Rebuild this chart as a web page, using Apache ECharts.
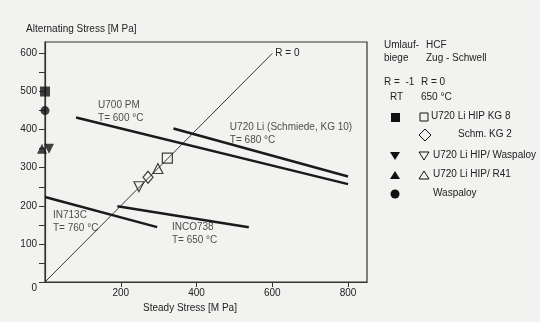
<!DOCTYPE html>
<html>
<head>
<meta charset="utf-8">
<script src="https://cdn.jsdelivr.net/npm/echarts@6/dist/echarts.min.js"></script>
<style>
  html, body { margin: 0; padding: 0; background: #f2f2f0; }
  #main { width: 540px; height: 322px; }
</style>
</head>
<body>
<div id="main"></div>
<script>
// 数据
var xTicks = [200, 400, 600, 800];
var yTicks = [0, 100, 200, 300, 400, 500, 600];
var yMinor = [0, 50, 100, 150, 200, 250, 300, 350, 400, 450, 500, 550, 600];

var rLine = [[0, 0], [600, 600]];
var u700 = [[82, 432], [800, 257]];
var u720 = [[339, 403], [800, 277]];
var in713 = [[0, 223], [296, 144]];
var inco738 = [[191, 199], [538, 144]];

// R = -1, RT (gefuellt)
var rtSquare = [[0, 500]];
var rtCircle = [[0, 450]];
var rtDown = [[0, 350]];
var rtUp = [[0, 350]];
// R = 0, 650 °C (offen)
var hipSquare = [[323, 325]];
var kg2Diamond = [[272, 275]];
var hipDown = [[248, 250]];
var hipUp = [[298, 298]];

var noteText = ['U700 PM\nT= 600 °C', 'U720 Li (Schmiede, KG 10)\nT= 680 °C', 'IN713C\nT= 760 °C', 'INCO738\nT= 650 °C'];
var noteAt = [[140, 448], [488, 390], [21, 159], [335, 127]];

var font = 'Liberation Sans Narrow, Arial Narrow, Liberation Sans, Arial, sans-serif';
var fs = 10;
var ink = '#222';
var bg = '#f2f2f0';

var myChart = echarts.init(document.getElementById('main'));

function matLine(d) {
  return { type: 'line', data: d, symbol: 'none', silent: true,
    lineStyle: { color: '#1a1a1a', width: 2.5 } };
}
function pts(d, sym, size, filled, extra) {
  var s = { type: 'scatter', data: d, symbol: sym, symbolSize: size, clip: false,
    itemStyle: filled ? { color: '#111' } : { color: bg, borderColor: '#111', borderWidth: 1.2 } };
  for (var k in extra) s[k] = extra[k];
  return s;
}

// Legende rechts
var g = [];
function txt(x, y, t) {
  g.push({ type: 'text', left: x, top: y - 6, style: { text: t, font: fs + 'px ' + font, fill: ink } });
}
txt(384, 46, 'Umlauf-'); txt(426, 46, 'HCF');
txt(384, 59, 'biege'); txt(426, 59, 'Zug - Schwell');
txt(384, 83, 'R =  -1'); txt(421, 83, 'R = 0');
txt(390, 98, 'RT'); txt(421, 98, '650 °C');
txt(431, 117, 'U720 Li HIP KG 8');
txt(458, 135, 'Schm. KG 2');
txt(433, 156, 'U720 Li HIP/ Waspaloy');
txt(433, 175, 'U720 Li HIP/ R41');
txt(433, 194, 'Waspaloy');
var fill = { fill: '#111' }, open = { fill: 'none', stroke: '#111', lineWidth: 1 };
g.push({ type: 'rect', shape: { x: 391, y: 113, width: 9, height: 9 }, style: fill });
g.push({ type: 'rect', shape: { x: 420, y: 113, width: 8, height: 8 }, style: open });
g.push({ type: 'polygon', shape: { points: [[425, 129], [431, 135], [425, 141], [419, 135]] }, style: open });
g.push({ type: 'polygon', shape: { points: [[390, 152], [400, 152], [395, 160]] }, style: fill });
g.push({ type: 'polygon', shape: { points: [[419, 152], [429, 152], [424, 160]] }, style: open });
g.push({ type: 'polygon', shape: { points: [[390, 179], [400, 179], [395, 171]] }, style: fill });
g.push({ type: 'polygon', shape: { points: [[419, 179], [429, 179], [424, 171]] }, style: open });
g.push({ type: 'circle', shape: { cx: 395, cy: 194, r: 4.5 }, style: fill });

var option = {
  backgroundColor: bg,
  animation: false,
  textStyle: { fontFamily: font, color: ink },
  title: { text: 'Alternating Stress [M Pa]', left: 21, top: 19,
    textStyle: { fontFamily: font, fontSize: fs, fontWeight: 'normal', color: ink } },
  grid: { left: 45, top: 42, width: 322, height: 240, show: true,
    borderColor: '#333', borderWidth: 1.2, backgroundColor: 'transparent' },
  xAxis: {
    type: 'value', min: 0, max: 850,
    name: 'Steady Stress [M Pa]', nameLocation: 'middle', nameGap: 21,
    nameTextStyle: { fontSize: fs, color: ink, padding: [0, 32, 0, 0] },
    splitLine: { show: false },
    axisLine: { lineStyle: { color: '#333', width: 1.2 } },
    axisTick: { customValues: xTicks, length: 5, lineStyle: { color: '#333' } },
    axisLabel: { customValues: xTicks, margin: 6, fontSize: fs, color: ink }
  },
  yAxis: {
    type: 'value', min: 0, max: 630,
    splitLine: { show: false },
    axisLine: { lineStyle: { color: '#333', width: 1.2 } },
    axisTick: { customValues: yMinor, length: 6, lineStyle: { color: '#333' } },
    axisLabel: { customValues: yTicks, margin: 8, fontSize: fs, color: ink,
      formatter: function (v) { return v === 0 ? '{z|0}' : v; },
      rich: { z: { fontSize: fs, color: ink, padding: [12, 0, 0, 0] } } }
  },
  graphic: g,
  series: [
    { type: 'line', data: rLine, symbol: 'none', silent: true,
      lineStyle: { color: '#222', width: 0.9 },
      endLabel: { show: true, formatter: 'R = 0', fontSize: fs, color: ink, distance: 3 } },
    matLine(u700), matLine(u720), matLine(in713), matLine(inco738),
    pts(rtSquare, 'rect', 10, true),
    pts(rtCircle, 'circle', 9, true),
    pts(rtUp, 'triangle', 10, true, { symbolOffset: [-3, 0] }),
    pts(rtDown, 'triangle', 10, true, { symbolOffset: [4, 0], symbolRotate: 180 }),
    pts(hipSquare, 'rect', 10, false),
    pts(kg2Diamond, 'diamond', [10, 12], false),
    pts(hipDown, 'triangle', 10, false, { symbolRotate: 180 }),
    pts(hipUp, 'triangle', 10, false),
    { type: 'scatter', symbolSize: 0, silent: true,
      data: noteAt.map(function (p, i) { return { value: p, name: noteText[i] }; }),
      label: { show: true, position: 'right', distance: 0, formatter: '{b}',
        fontSize: fs, lineHeight: 13, color: ink, align: 'left' } }
  ]
};

myChart.setOption(option);
</script>
</body>
</html>
